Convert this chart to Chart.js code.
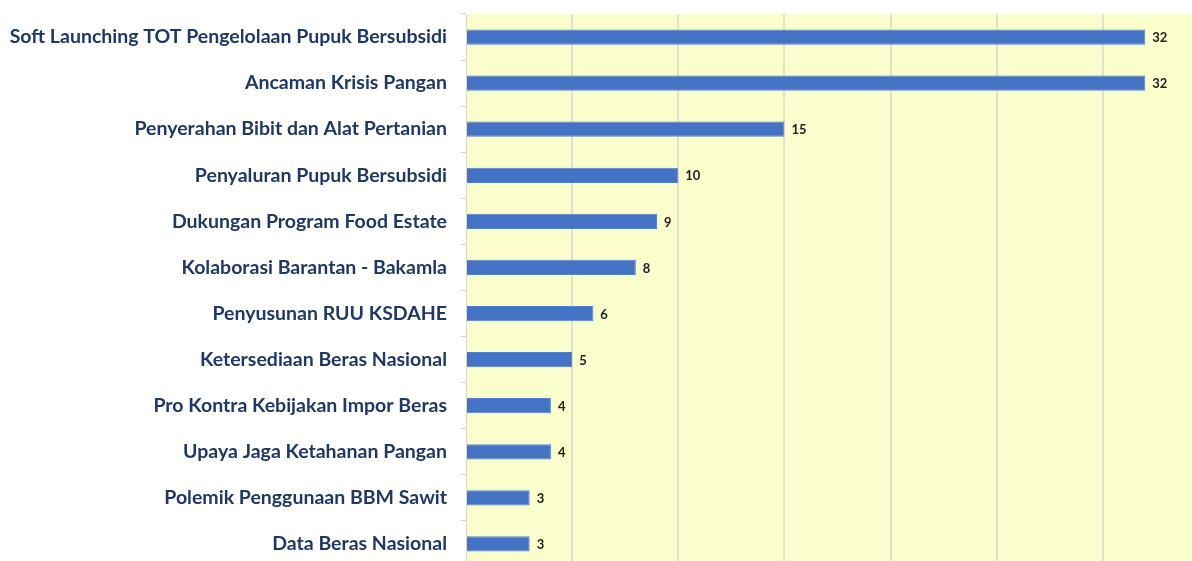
<!DOCTYPE html>
<html lang="id">
<head>
    <script src="https://cdn.jsdelivr.net/npm/chart.js@4/dist/chart.umd.min.js"></script>
    <style>
        html, body { margin: 0; padding: 0; background: #fff; overflow: hidden; }
        /* plot runs slightly past the bottom edge, as in the cropped original */
        #canvas-container { position: relative; width: 1192px; height: 567px; }
    </style>
</head>
<body>

<div id="canvas-container">
    <canvas id="isu-bar-chart"></canvas>
</div>

<script>
    const labels = [
        "Soft Launching TOT Pengelolaan Pupuk Bersubsidi",
        "Ancaman Krisis Pangan",
        "Penyerahan Bibit dan Alat Pertanian",
        "Penyaluran Pupuk Bersubsidi",
        "Dukungan Program Food Estate",
        "Kolaborasi Barantan - Bakamla",
        "Penyusunan RUU KSDAHE",
        "Ketersediaan Beras Nasional",
        "Pro Kontra Kebijakan Impor Beras",
        "Upaya Jaga Ketahanan Pangan",
        "Polemik Penggunaan BBM Sawit",
        "Data Beras Nasional"
    ];
    const counts = [32, 32, 15, 10, 9, 8, 6, 5, 4, 4, 3, 3];

    // yellow plot background
    const plotBg = {
        id: "plotBg",
        beforeDraw(chart) {
            const a = chart.chartArea;
            const c = chart.ctx;
            c.save();
            c.fillStyle = "#fafdcc";
            c.fillRect(a.left, a.top, a.right - a.left, a.bottom - a.top);
            c.restore();
        }
    };

    // value labels at bar ends
    const valueLabels = {
        id: "valueLabels",
        afterDatasetsDraw(chart) {
            const c = chart.ctx;
            const meta = chart.getDatasetMeta(0);
            c.save();
            c.font = "bold 13px Lato";
            c.fillStyle = "#222";
            c.textBaseline = "middle";
            meta.data.forEach((bar, i) => {
                c.fillText(chart.data.datasets[0].data[i], bar.x + 7, bar.y + 1);
            });
            c.restore();
        }
    };

    const ctx = document.getElementById("isu-bar-chart").getContext("2d");

    new Chart(ctx, {
        type: "bar",
        data: {
            labels: labels,
            datasets: [{
                data: counts,
                backgroundColor: "#4472c4",
                borderColor: "#5580cc",
                borderWidth: 1,
                barPercentage: 0.66,
                categoryPercentage: 0.5
            }]
        },
        options: {
            indexAxis: "y",
            responsive: true,
            maintainAspectRatio: false,
            animation: false,
            layout: { padding: { top: 14, right: 0, bottom: 0, left: 0 } },
            plugins: {
                legend: { display: false },
                tooltip: { enabled: false }
            },
            scales: {
                x: {
                    min: 0,
                    max: 34.2,
                    afterFit(scale) {
                        scale.height = 0;
                        scale.paddingLeft = 0;
                        scale.paddingRight = 0;
                    },
                    ticks: { display: false, stepSize: 5, padding: 0 },
                    border: { display: false },
                    grid: {
                        drawTicks: false,
                        lineWidth: 2,
                        color: (c) => (c.tick && c.tick.value % 5 === 0 && c.tick.value > 0) ? "#e2e2cc" : "transparent"
                    }
                },
                y: {
                    afterFit(scale) {
                        scale.width = 466;
                        scale.paddingTop = 0;
                        scale.paddingBottom = 0;
                    },
                    border: { display: true, color: "#d6d6d6", width: 1 },
                    grid: {
                        drawOnChartArea: false,
                        tickLength: 5,
                        color: "#d6d6d6"
                    },
                    ticks: {
                        padding: 14,
                        color: "#1f3868",
                        font: { family: "Lato", size: 19.5, weight: "bold" }
                    }
                }
            }
        },
        plugins: [plotBg, valueLabels]
    });
</script>

</body>
</html>
